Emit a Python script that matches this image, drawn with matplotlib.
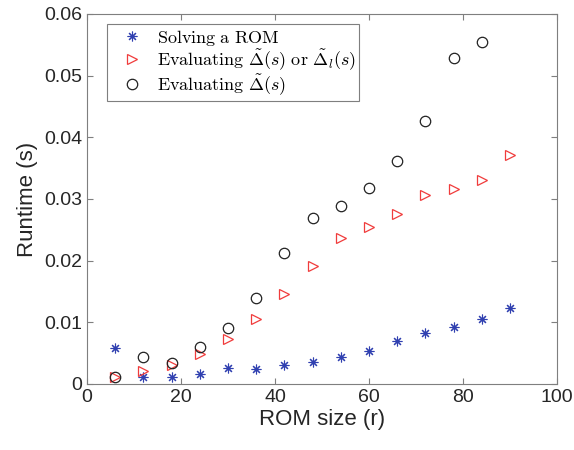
import matplotlib.pyplot as plt
import numpy as np

plt.rcParams['mathtext.fontset'] = 'cm'
plt.rcParams['font.family'] = ['Liberation Sans', 'DejaVu Sans']

rom_size = np.arange(6, 91, 6)
t_solve = [0.0059, 0.0011, 0.0012, 0.0016, 0.0026, 0.0024, 0.0031, 0.0036,
           0.0044, 0.0054, 0.0070, 0.0082, 0.0092, 0.0106, 0.0123]
t_eval_l = [0.0012, 0.0021, 0.0030, 0.0048, 0.0073, 0.0105, 0.0146, 0.0192,
            0.0236, 0.0254, 0.0276, 0.0306, 0.0316, 0.0331, 0.0371]
t_eval = [0.0012, 0.0044, 0.0034, 0.0060, 0.0090, 0.0140, 0.0212, 0.0269,
          0.0289, 0.0318, 0.0361, 0.0427, 0.0529, 0.0554]

labels = [r'$\mathrm{Solving\ a\ ROM}$',
          r'$\mathrm{Evaluating}\ \tilde{\Delta}(s)\ \mathrm{or}\ \tilde{\Delta}_l(s)$',
          r'$\mathrm{Evaluating}\ \tilde{\Delta}(s)$']

fig = plt.figure(figsize=(5.74, 4.5), dpi=100)
ax = fig.add_axes([0.1516, 0.1467, 0.8188, 0.8222])

ax.plot(rom_size, t_solve, ls='none', marker=(8, 2, 0), color='#3040b0', ms=7, mew=0.8, label=labels[0])
ax.plot(rom_size, t_eval_l, '>', color='#f03c3c', mfc='none', ms=7.5, mew=0.9, label=labels[1])
ax.plot(rom_size[:len(t_eval)], t_eval, 'o', color='#222222', mfc='none', ms=7.5, mew=0.9, label=labels[2])

ax.set_xlim(0, 100)
ax.set_ylim(0, 0.06)
ax.set_xticks([0, 20, 40, 60, 80, 100])
ax.set_yticks([0, 0.01, 0.02, 0.03, 0.04, 0.05, 0.06])
ax.set_yticklabels(['0', '0.01', '0.02', '0.03', '0.04', '0.05', '0.06'])
ax.tick_params(direction='in', top=True, right=True, labelsize=14, colors='#262626', length=4)
ax.tick_params(color='#7f7f7f')
for s in ax.spines.values():
    s.set_color('#7f7f7f')
ax.set_xlabel('ROM size (r)', fontsize=16, color='#262626', labelpad=2)
ax.set_ylabel('Runtime (s)', fontsize=16, color='#262626', labelpad=4)

leg = ax.legend(loc='upper left', bbox_to_anchor=(0.043, 0.973), fontsize=13, fancybox=False,
                edgecolor='#7f7f7f', framealpha=1, handletextpad=0.25, borderpad=0.2,
                labelspacing=0.0, handlelength=2.3, borderaxespad=0)
leg.get_frame().set_linewidth(0.8)

fig.savefig('out.png', dpi=100)
